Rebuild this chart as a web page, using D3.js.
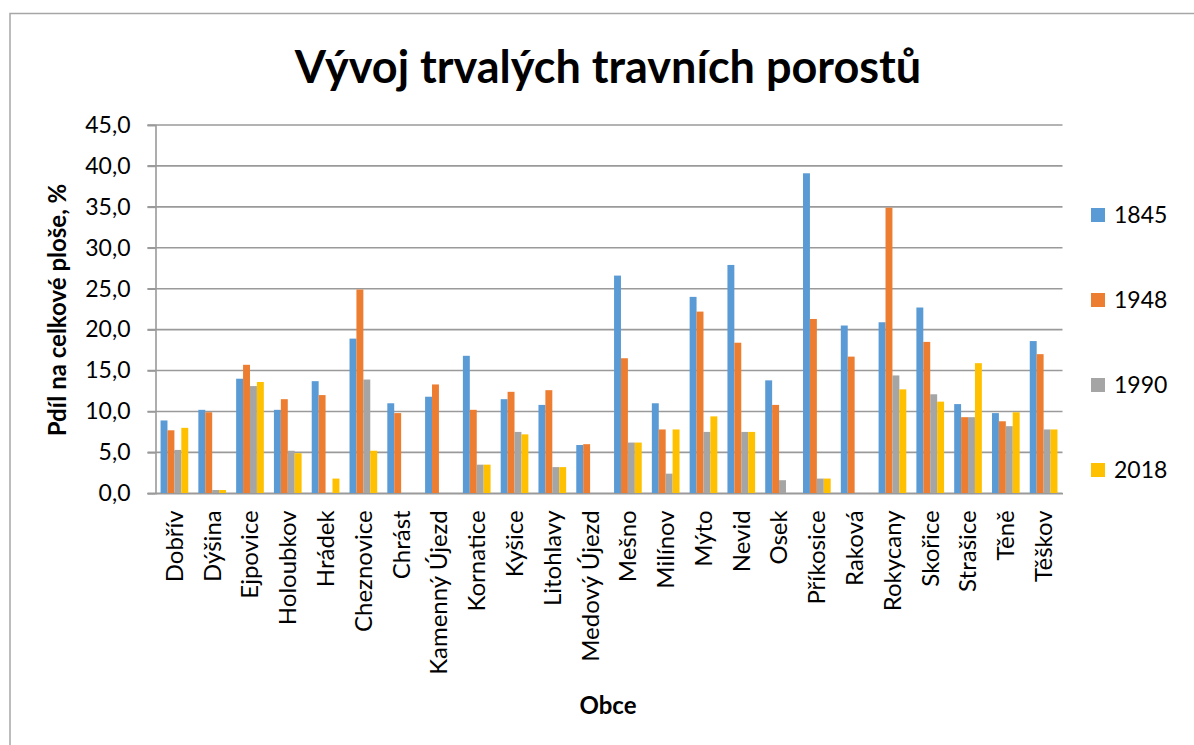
<!DOCTYPE html>
<html lang="cs">
<head>
<meta charset="UTF-8">
<title>Vývoj trvalých travních porostů</title>
<style>
  body { margin: 0; background: #fff; }
  text { font-family: Lato, "Open Sans", sans-serif; fill: #000; }
</style>
</head>
<body>
<div id="chart"></div>
<script src="https://d3js.org/d3.v7.min.js"></script>
<script>
// data
const categories = ["Dobřív", "Dýšina", "Ejpovice", "Holoubkov", "Hrádek", "Cheznovice", "Chrást",
  "Kamenný Újezd", "Kornatice", "Kyšice", "Litohlavy", "Medový Újezd", "Mešno", "Milínov", "Mýto",
  "Nevid", "Osek", "Příkosice", "Raková", "Rokycany", "Skořice", "Strašice", "Těně", "Těškov"];
const years = ["1845", "1948", "1990", "2018"];
const values1845 = [8.9, 10.2, 14.0, 10.2, 13.7, 18.9, 11.0, 11.8, 16.8, 11.5, 10.8, 5.9, 26.6, 11.0, 24.0, 27.9, 13.8, 39.1, 20.5, 20.9, 22.7, 10.9, 9.8, 18.6];
const values1948 = [7.7, 9.9, 15.7, 11.5, 12.0, 24.9, 9.8, 13.3, 10.2, 12.4, 12.6, 6.0, 16.5, 7.8, 22.2, 18.4, 10.8, 21.3, 16.7, 34.9, 18.5, 9.3, 8.8, 17.0];
const values1990 = [5.3, 0.4, 13.1, 5.2, 0, 13.9, 0, 0, 3.5, 7.5, 3.2, 0, 6.2, 2.4, 7.5, 7.5, 1.6, 1.8, 0, 14.4, 12.1, 9.3, 8.2, 7.8];
const values2018 = [8.0, 0.4, 13.6, 4.9, 1.8, 5.2, 0, 0, 3.5, 7.2, 3.2, 0, 6.2, 7.8, 9.4, 7.5, 0, 1.8, 0, 12.7, 11.2, 15.9, 9.9, 7.8];
const colors = ["#5b9bd5", "#ed7d31", "#a5a5a5", "#ffc000"];
const yTicks = [0, 5, 10, 15, 20, 25, 30, 35, 40, 45];

const seriesValues = [values1845, values1948, values1990, values2018];
const rows = categories.map((c, i) => ({
  name: c,
  vals: years.map((y, s) => ({ year: y, value: seriesValues[s][i] }))
}));

const W = 1194, H = 745;
const plot = { left: 155.5, right: 1062.5, top: 125, bottom: 493.3 };

const svg = d3.select("#chart").append("svg")
  .attr("width", W)
  .attr("height", H);

svg.append("rect").attr("width", W).attr("height", H).attr("fill", "#fff");

// chart frame (only left and top edges fall inside the picture)
svg.append("rect")
  .attr("x", 10).attr("y", 13.5)
  .attr("width", 1300).attr("height", 900)
  .attr("fill", "none")
  .attr("stroke", "#a6a6a6")
  .attr("stroke-width", 1.5);

svg.append("text")
  .attr("x", 608).attr("y", 83)
  .attr("text-anchor", "middle")
  .style("font-size", "45px")
  .style("font-weight", "bold")
  .text("Vývoj trvalých travních porostů");

const x0 = d3.scaleBand()
  .domain(categories)
  .range([plot.left, plot.right]);

const x1 = d3.scaleBand()
  .domain(years)
  .range([0, x0.bandwidth()])
  .paddingOuter(0.73);

const y = d3.scaleLinear()
  .domain([0, 45])
  .range([plot.bottom, plot.top]);

const color = d3.scaleOrdinal().domain(years).range(colors);

// gridlines
svg.append("g")
  .selectAll("line")
  .data(yTicks)
  .join("line")
  .attr("x1", plot.left - 8)
  .attr("x2", plot.right)
  .attr("y1", d => y(d))
  .attr("y2", d => y(d))
  .attr("stroke", "#9a9a9a")
  .attr("stroke-width", 1.6);

// bars
svg.append("g")
  .selectAll("g")
  .data(rows)
  .join("g")
  .attr("transform", d => `translate(${x0(d.name)},0)`)
  .selectAll("rect")
  .data(d => d.vals)
  .join("rect")
  .attr("x", d => x1(d.year))
  .attr("y", d => y(d.value))
  .attr("width", x1.bandwidth())
  .attr("height", d => y(0) - y(d.value))
  .attr("fill", d => color(d.year));

// y axis
const yAxis = svg.append("g")
  .attr("transform", `translate(${plot.left},0)`)
  .call(d3.axisLeft(y)
    .tickValues(yTicks)
    .tickSize(8)
    .tickPadding(17)
    .tickFormat(d => d.toFixed(1).replace(".", ",")));
yAxis.select(".domain").attr("stroke", "#9a9a9a").attr("stroke-width", 1.6);
yAxis.selectAll(".tick line").attr("stroke", "#9a9a9a").attr("stroke-width", 1.6);
yAxis.selectAll(".tick text")
  .style("font-size", "23px")
  .attr("font-family", null);

// x axis
const xAxis = svg.append("g")
  .attr("transform", `translate(0,${plot.bottom})`)
  .call(d3.axisBottom(x0).tickSize(0).tickPadding(0));
xAxis.select(".domain").attr("stroke", "#9a9a9a").attr("stroke-width", 1.6);
xAxis.selectAll(".tick text")
  .attr("font-family", null)
  .style("font-size", "24px")
  .attr("text-anchor", "end")
  .attr("transform", "translate(0,17) rotate(-90)")
  .attr("x", 0)
  .attr("y", 0)
  .attr("dy", "0.35em");

svg.append("text")
  .attr("transform", "translate(66,310) rotate(-90)")
  .attr("text-anchor", "middle")
  .style("font-size", "24px")
  .style("font-weight", "bold")
  .text("Pdíl na celkové ploše, %");

svg.append("text")
  .attr("x", 608).attr("y", 714)
  .attr("text-anchor", "middle")
  .style("font-size", "24px")
  .style("font-weight", "bold")
  .text("Obce");

// legend
const legend = svg.append("g")
  .selectAll("g")
  .data(years)
  .join("g")
  .attr("transform", (d, i) => `translate(1091,${215 + i * 85})`);
legend.append("rect")
  .attr("x", 0).attr("y", -7)
  .attr("width", 14).attr("height", 14)
  .attr("fill", d => color(d));
legend.append("text")
  .attr("x", 23).attr("y", 0)
  .attr("dy", "0.35em")
  .style("font-size", "23px")
  .text(d => d);
</script>
</body>
</html>
